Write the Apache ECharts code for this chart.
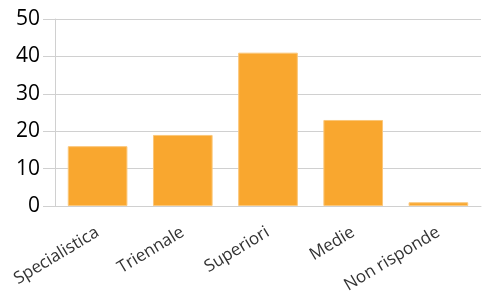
<!DOCTYPE html>
<html lang="it">
<head>
    <meta charset="UTF-8">
    <title>Titolo di studio</title>
    <script src="https://cdn.jsdelivr.net/npm/echarts@6.0.0/dist/echarts.min.js"></script>
</head>
<body style="margin: 0; background-color: #fff">
<div id="container" style="width: 486px; height: 291px"></div>
</body>
<script type="text/javascript">
    // dati
    let categorie = ['Specialistica', 'Triennale', 'Superiori', 'Medie', 'Non risponde'];
    let valori = [16, 19, 41, 23, 1];
    let tickY = [0, 10, 20, 30, 40, 50];

    let myChart = echarts.init(document.getElementById('container'));
    let option = {
        animation: false,
        grid: {left: 55, right: 5, top: 19, bottom: 85, outerBoundsMode: 'none'},
        xAxis: {
            type: 'category',
            data: categorie,
            axisLine: {lineStyle: {color: '#d0d0d0', width: 1}},
            axisTick: {length: 11, lineStyle: {color: '#d0d0d0'}},
            axisLabel: {
                rotate: 31,
                margin: 25,
                color: '#333',
                fontFamily: 'Open Sans',
                fontSize: 17
            }
        },
        yAxis: {
            type: 'value',
            min: tickY[0],
            max: tickY[tickY.length - 1],
            interval: 10,
            axisLine: {show: true, lineStyle: {color: '#d0d0d0'}},
            axisTick: {show: true, length: 12, lineStyle: {color: '#d0d0d0'}},
            splitLine: {lineStyle: {color: '#d0d0d0'}},
            axisLabel: {
                margin: 15,
                color: '#000',
                fontFamily: 'Open Sans',
                fontSize: 21
            }
        },
        series: [{
            type: 'bar',
            data: valori,
            barWidth: '70%',
            itemStyle: {
                color: '#f9a72f',
                borderColor: '#fbc77a',
                borderWidth: 1
            }
        }]
    };
    myChart.setOption(option);
</script>
</html>
